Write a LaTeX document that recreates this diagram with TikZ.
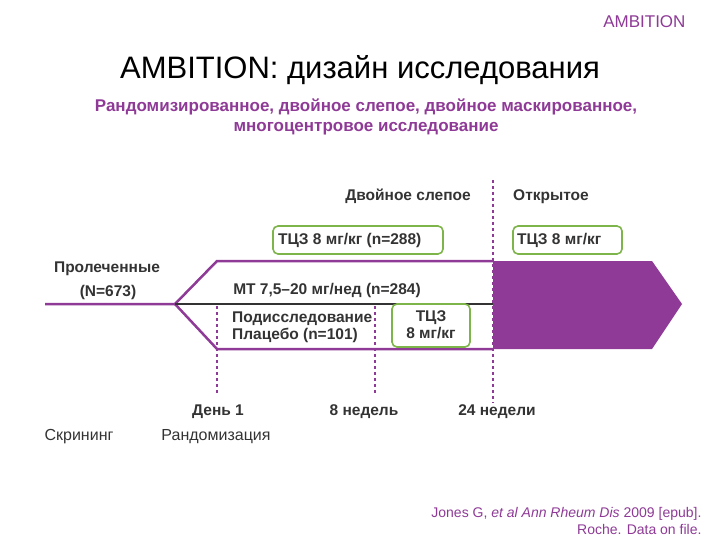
\documentclass[tikz,border=0pt]{standalone}
\usepackage{fontspec}
\setmainfont{Liberation Sans}
\definecolor{pur}{HTML}{8E3A96}
\definecolor{grn}{HTML}{7DB54A}
\definecolor{txt}{HTML}{333333}
\begin{document}
\begin{tikzpicture}[x=1pt,y=-1pt,
  lbl/.style={text=txt,font=\fontsize{15.5}{17}\selectfont\bfseries,inner sep=0pt},
  lbll/.style={text=txt,font=\fontsize{16}{18}\selectfont,inner sep=0pt},
  gbox/.style={draw=grn,line width=1.6pt,rounded corners=5pt},
  arm/.style={draw=pur,line width=2.5pt},
  vdash/.style={draw=pur,line width=2.5pt,dash pattern=on 3pt off 3pt}]
\useasboundingbox (0,0) rectangle (720,540);
\node[text=pur,font=\fontsize{17}{19}\selectfont,anchor=east] (amb) at (689,22) {AMBITION};
\node[text=black,font=\fontsize{31}{34}\selectfont] (title) at (360,70) {AMBITION: дизайн исследования};
\node[text=pur,font=\fontsize{17}{20}\selectfont\bfseries,align=center] (sub) at (366,117) {Рандомизированное, двойное слепое, двойное маскированное,\\многоцентровое исследование};
% fill arrow
\fill[pur] (493,261) coordinate (f1) -- (652,261) -- (682,304) -- (652,349) -- (493,349) -- cycle;
% arms
\coordinate (fork) at (175,304);
\coordinate (start) at (45,304);
\draw[arm] (start) -- (fork) -- (217,261) -- (f1);
\draw[arm] (fork) -- (217,349) -- (493,349);
\draw[draw=txt,line width=2.5pt] (fork) -- (493,304);
% dashed lines
\draw[vdash] (217,306) coordinate (d1a) -- (217,393) coordinate (d1b);
\draw[vdash] (375,306) coordinate (d2a) -- (375,393) coordinate (d2b);
\draw[vdash] (493,180) coordinate (d3a) -- (493,403) coordinate (d3b);
% boxes
\draw[gbox] (273,226) rectangle (443,254);
\node[lbl,anchor=west] (t1) at (278,240) {ТЦЗ 8 мг/кг (n=288)};
\draw[gbox] (513,226) rectangle (622,254);
\node[lbl,anchor=west] (t2) at (517,240) {ТЦЗ 8 мг/кг};
\draw[gbox] (392,304) rectangle (470,347);
\node[lbl,align=center] (t3) at (431,325) {ТЦЗ\\8 мг/кг};
% labels
\node[lbl] (ds) at (408,196) {Двойное слепое};
\node[lbl] (ot) at (551,197) {Открытое};
\node[lbl] (pr) at (107,269) {Пролеченные};
\node[lbl] (n) at (108,292) {(N=673)};
\node[lbl] (mt) at (327,290) {МТ 7,5–20 мг/нед (n=284)};
\node[lbl,align=left,anchor=west] (pl) at (232,327) {Подисследование\\Плацебо (n=101)};
\node[lbl] (day) at (218,412) {День 1};
\node[lbl] (w8) at (364,412) {8 недель};
\node[lbl] (w24) at (497,412) {24 недели};
\node[lbll] (scr) at (79,437) {Скрининг};
\node[lbll] (rnd) at (216,437) {Рандомизация};
\node[text=pur,font=\fontsize{14}{17}\selectfont,align=right,anchor=east] (ref) at (705,521) {Jones G, \emph{et al Ann Rheum Dis} 2009 [epub].\\Roche. Data on file.};
\end{tikzpicture}
\end{document}
